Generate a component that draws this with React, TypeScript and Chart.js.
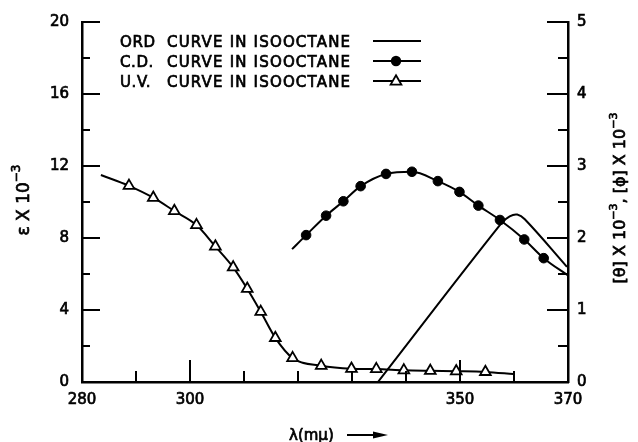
import React, { useEffect, useRef } from 'react';
import { Chart, registerables } from 'chart.js';

Chart.register(...registerables);

// ---- data ----
const uvWavelength = [283.5, 288.7, 293.2, 297.1, 301.2, 304.7, 308.0, 310.6, 313.1, 315.8, 319.0, 324.3, 329.9, 334.5, 339.6, 344.5, 349.3, 354.7, 359.9];
const uvEpsilon = [11.5, 10.9, 10.24, 9.5, 8.72, 7.53, 6.37, 5.18, 3.9, 2.45, 1.33, 0.9, 0.74, 0.72, 0.65, 0.62, 0.6, 0.56, 0.44];

const cdWavelength = [318.9, 321.5, 325.2, 328.4, 331.6, 336.3, 341.1, 345.9, 349.9, 353.4, 357.4, 361.9, 365.5, 370.0];
const cdTheta = [1.845, 2.04, 2.31, 2.51, 2.72, 2.89, 2.92, 2.79, 2.64, 2.45, 2.25, 1.98, 1.72, 1.48];

const ordWavelength = [334.8, 357.6, 359.2, 360.6, 362.0, 369.8];
const ordPhi = [0.0, 2.2, 2.3, 2.325, 2.26, 1.6];

const xTickLabels = [280, 300, 350, 370];
const xMajorMarks = [300, 350];
const xMinorMarks = [290, 310, 320, 330, 340, 360];
const leftTickLabels = [0, 4, 8, 12, 16, 20];
const leftMinorMarks = [2, 6, 10, 14, 18];
const rightTickLabels = [0, 1, 2, 3, 4, 5];
const rightMinorMarks = [0.5, 1.5, 2.5, 3.5, 4.5];
const legendPrefixes = ['ORD', 'C.D.', 'U.V.'];
const legendBody = 'CURVE IN ISOOCTANE';
const leftTitle = 'ε X 10';
const rightTitleA = '[θ] X 10';
const rightTitleB = ', [ϕ] X 10';
const titleExponent = '−3';
const xTitle = 'λ(mμ)';

const FONT = '"DejaVu Sans", sans-serif';
const TEXT_STROKE = 0.7;

const toPoints = (xs: number[], ys: number[]) => xs.map((x, i) => ({ x, y: ys[i] }));

function drawTriangle(ctx: CanvasRenderingContext2D, x: number, y: number, r: number) {
  ctx.beginPath();
  for (let k = 0; k < 3; k++) {
    const a = (k * 2 * Math.PI) / 3;
    const px = x + Math.sin(a) * r;
    const py = y - Math.cos(a) * r;
    if (k === 0) ctx.moveTo(px, py);
    else ctx.lineTo(px, py);
  }
  ctx.closePath();
  ctx.fillStyle = '#fff';
  ctx.fill();
  ctx.lineWidth = 1.8;
  ctx.strokeStyle = '#000';
  ctx.stroke();
}

function boldText(ctx: CanvasRenderingContext2D, text: string, x: number, y: number) {
  ctx.fillText(text, x, y);
  ctx.lineWidth = TEXT_STROKE;
  ctx.strokeText(text, x, y);
}

function drawTitleWithExponent(ctx: CanvasRenderingContext2D, parts: { text: string; sup: boolean }[], size: number) {
  const big = `${size}px ${FONT}`;
  const small = `${Math.round(size * 0.7)}px ${FONT}`;
  let total = 0;
  const widths = parts.map((p) => {
    ctx.font = p.sup ? small : big;
    const w = ctx.measureText(p.text).width;
    total += w;
    return w;
  });
  let cx = -total / 2;
  ctx.textBaseline = 'middle';
  ctx.textAlign = 'left';
  ctx.fillStyle = '#000';
  ctx.strokeStyle = '#000';
  parts.forEach((p, i) => {
    ctx.font = p.sup ? small : big;
    boldText(ctx, p.text, cx, p.sup ? -size * 0.45 : 0);
    cx += widths[i];
  });
}

const decorations = {
  id: 'decorations',
  afterDraw(chart: any) {
    const { ctx, chartArea, scales } = chart;
    const sx = scales.x;
    const yL = scales.yL;
    const yR = scales.yR;
    const line = (x1: number, y1: number, x2: number, y2: number) => {
      ctx.beginPath();
      ctx.moveTo(x1, y1);
      ctx.lineTo(x2, y2);
      ctx.stroke();
    };
    ctx.save();
    ctx.strokeStyle = '#000';
    ctx.lineWidth = 2;
    ctx.lineCap = 'butt';

    // inward tick marks
    leftTickLabels.forEach((v) => {
      const py = yL.getPixelForValue(v);
      line(chartArea.left, py, chartArea.left + 18, py);
    });
    leftMinorMarks.forEach((v) => {
      const py = yL.getPixelForValue(v);
      line(chartArea.left, py, chartArea.left + 8, py);
    });
    rightTickLabels.forEach((v) => {
      const py = yR.getPixelForValue(v);
      line(chartArea.right, py, chartArea.right - 21, py);
    });
    rightMinorMarks.forEach((v) => {
      const py = yR.getPixelForValue(v);
      line(chartArea.right, py, chartArea.right - 10, py);
    });
    xMajorMarks.forEach((v) => {
      const px = sx.getPixelForValue(v);
      line(px, chartArea.bottom, px, chartArea.bottom - 22);
    });
    xMinorMarks.forEach((v) => {
      const px = sx.getPixelForValue(v);
      line(px, chartArea.bottom, px, chartArea.bottom - 11);
    });

    // legend
    ctx.fillStyle = '#000';
    ctx.textBaseline = 'middle';
    ctx.textAlign = 'left';
    ctx.font = `15px ${FONT}`;
    const bodyW = ctx.measureText(legendBody).width;
    const spacing = (183 - bodyW) / (legendBody.length - 1);
    legendPrefixes.forEach((p, i) => {
      const ty = 43 + i * 20;
      ctx.fillStyle = '#000';
      ctx.strokeStyle = '#000';
      (ctx as any).letterSpacing = '0.6px';
      boldText(ctx, p, 120, ty);
      (ctx as any).letterSpacing = `${spacing.toFixed(2)}px`;
      boldText(ctx, legendBody, 167, ty);
      (ctx as any).letterSpacing = '0px';
      const ly = 41 + i * 20;
      ctx.lineWidth = 2;
      line(373, ly, 421, ly);
      if (i === 1) {
        ctx.beginPath();
        ctx.arc(396, ly, 5.2, 0, Math.PI * 2);
        ctx.fillStyle = '#000';
        ctx.fill();
      }
      if (i === 2) {
        drawTriangle(ctx, 396, ly + 0.5, 6.2);
      }
    });

    // left axis title
    ctx.save();
    ctx.translate(25, 200);
    ctx.rotate(-Math.PI / 2);
    drawTitleWithExponent(ctx, [
      { text: leftTitle, sup: false },
      { text: titleExponent, sup: true },
    ], 17);
    ctx.restore();

    // right axis title (reads bottom to top)
    ctx.save();
    ctx.translate(621, 198);
    ctx.rotate(-Math.PI / 2);
    drawTitleWithExponent(ctx, [
      { text: rightTitleA, sup: false },
      { text: titleExponent, sup: true },
      { text: rightTitleB, sup: false },
      { text: titleExponent, sup: true },
    ], 16);
    ctx.restore();

    // x axis title with arrow
    ctx.font = `15px ${FONT}`;
    ctx.fillStyle = '#000';
    ctx.strokeStyle = '#000';
    ctx.textAlign = 'left';
    ctx.textBaseline = 'middle';
    boldText(ctx, xTitle, 289, 436);
    ctx.lineWidth = 2;
    line(347, 435, 378, 435);
    ctx.beginPath();
    ctx.moveTo(388, 435);
    ctx.lineTo(373, 431.5);
    ctx.lineTo(373, 438.5);
    ctx.closePath();
    ctx.fill();

    ctx.restore();
  },
};

export default function App() {
  const canvasRef = useRef<HTMLCanvasElement | null>(null);

  useEffect(() => {
    const canvas = canvasRef.current;
    if (!canvas) return;
    const uvLast = uvWavelength.length - 1;
    const cdLast = cdWavelength.length - 1;
    const tickFont = { family: FONT, size: 15 };
    const tickStyle = { color: '#000', font: tickFont, textStrokeColor: '#000', textStrokeWidth: TEXT_STROKE };

    const chart = new Chart(canvas, {
      type: 'line',
      data: {
        datasets: [
          {
            label: 'U.V. CURVE IN ISOOCTANE',
            data: toPoints(uvWavelength, uvEpsilon),
            yAxisID: 'yL',
            borderColor: '#000',
            borderWidth: 2,
            cubicInterpolationMode: 'monotone',
            pointStyle: 'triangle',
            pointRadius: (c: any) => (c.dataIndex === 0 || c.dataIndex === uvLast ? 0 : 6.2),
            pointBackgroundColor: '#fff',
            pointBorderColor: '#000',
            pointBorderWidth: 1.8,
          },
          {
            label: 'C.D. CURVE IN ISOOCTANE',
            data: toPoints(cdWavelength, cdTheta),
            yAxisID: 'yR',
            borderColor: '#000',
            borderWidth: 2,
            cubicInterpolationMode: 'monotone',
            pointStyle: 'circle',
            pointRadius: (c: any) => (c.dataIndex === 0 || c.dataIndex === cdLast ? 0 : 4.8),
            pointBackgroundColor: '#000',
            pointBorderColor: '#000',
            pointBorderWidth: 1,
          },
          {
            label: 'ORD CURVE IN ISOOCTANE',
            data: toPoints(ordWavelength, ordPhi),
            yAxisID: 'yR',
            borderColor: '#000',
            borderWidth: 2,
            tension: 0.4,
            pointRadius: 0,
          },
        ],
      } as any,
      options: {
        animation: false,
        responsive: false,
        events: [],
        layout: { padding: { top: 18, left: 0, right: 0, bottom: 0 } },
        plugins: { legend: { display: false }, tooltip: { enabled: false }, title: { display: false } },
        scales: {
          x: {
            type: 'linear',
            position: 'bottom',
            min: 280,
            max: 370,
            afterFit: (s: any) => {
              s.height = 60;
            },
            afterBuildTicks: (s: any) => {
              s.ticks = xTickLabels.map((v) => ({ value: v }));
            },
            grid: { display: true, drawOnChartArea: false, drawTicks: false },
            border: { display: true, width: 2.5, color: '#000' },
            ticks: { ...tickStyle, padding: 9, maxRotation: 0, autoSkip: false, callback: (v: any) => String(v) },
          },
          yL: {
            type: 'linear',
            position: 'left',
            min: 0,
            max: 20,
            afterFit: (s: any) => {
              s.width = 82;
            },
            afterBuildTicks: (s: any) => {
              s.ticks = leftTickLabels.map((v) => ({ value: v }));
            },
            grid: { display: true, drawOnChartArea: false, drawTicks: false },
            border: { display: true, width: 2.5, color: '#000' },
            ticks: { ...tickStyle, padding: 13, callback: (v: any) => String(v) },
          },
          yR: {
            type: 'linear',
            position: 'right',
            min: 0,
            max: 5,
            afterFit: (s: any) => {
              s.width = 70;
            },
            afterBuildTicks: (s: any) => {
              s.ticks = rightTickLabels.map((v) => ({ value: v }));
            },
            grid: { display: true, drawOnChartArea: false, drawTicks: false },
            border: { display: true, width: 2.5, color: '#000' },
            ticks: { ...tickStyle, padding: 9, callback: (v: any) => String(v) },
          },
        },
      } as any,
      plugins: [decorations as any],
    });

    return () => {
      chart.destroy();
    };
  }, []);

  return (
    <div style={{ position: 'fixed', left: 0, top: 0, width: 638, height: 442, background: '#fff' }}>
      <canvas ref={canvasRef} width={638} height={442} style={{ display: 'block' }} />
    </div>
  );
}
